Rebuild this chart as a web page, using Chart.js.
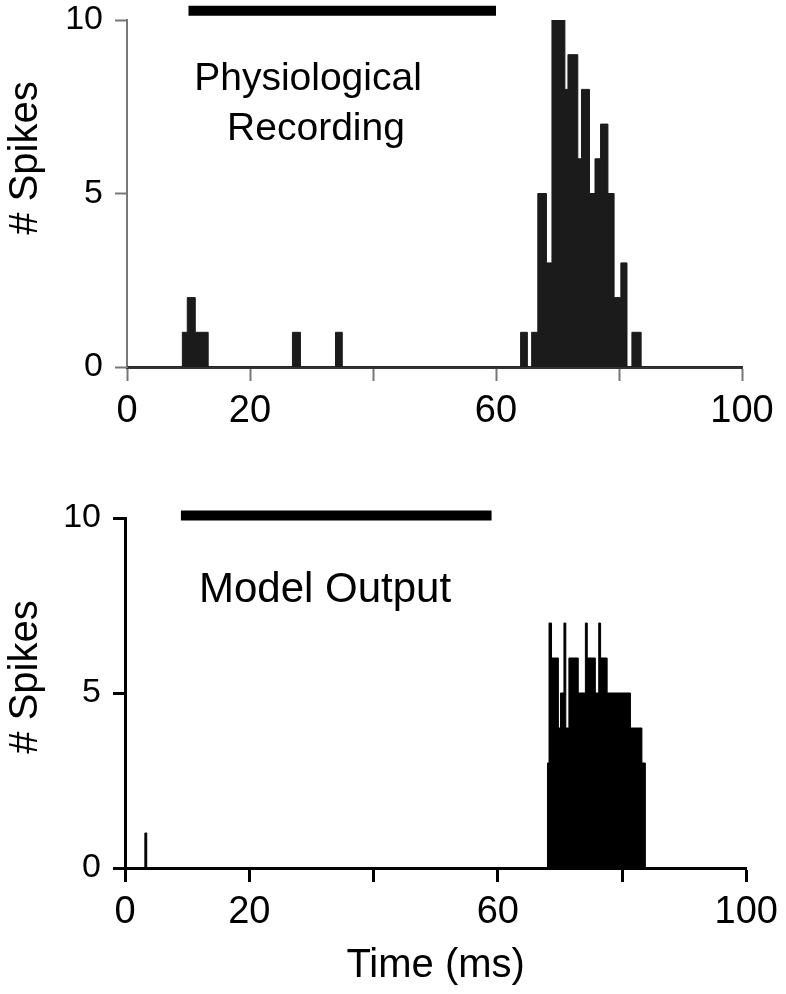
<!DOCTYPE html>
<html>
<head>
<meta charset="utf-8">
<script src="https://cdn.jsdelivr.net/npm/chart.js@4.4.0/dist/chart.umd.min.js"></script>
<style>
  body { margin: 0; background: #fff; }
  canvas { position: absolute; left: 0; }
  #physChart { top: 0; }
  #modelChart { top: 470px; }
</style>
</head>
<body>
<canvas id="physChart" width="786" height="450"></canvas>
<canvas id="modelChart" width="786" height="524"></canvas>
<script>
// bin start (ms) and spike count for each bin
const physTimes = [0, 9.0, 9.8, 11.1, 13.2, 26.9, 28.2, 33.9, 35.0, 64.0, 65.1, 65.8, 66.8, 68.2, 69.1, 71.2, 71.7, 73.3, 73.9, 75.2, 76.1, 77.0, 78.2, 79.2, 80.3, 81.3, 82.1, 83.6, 100];
const physCounts = [0, 1, 2, 1, 0, 1, 0, 1, 0, 1, 0, 1, 5, 3, 10, 8, 9, 6, 8, 5, 6, 7, 5, 2, 3, 0, 1, 0, 0];

const modelTimes = [0, 3.2, 3.5, 68.0, 68.25, 68.65, 69.75, 70.1, 70.65, 70.95, 71.45, 72.95, 74.1, 74.4, 75.7, 76.25, 76.55, 77.6, 81.35, 83.2, 83.75, 100];
const modelCounts = [0, 1, 0, 3, 7, 6, 4, 5, 7, 4, 6, 5, 7, 6, 5, 7, 6, 5, 4, 3, 0, 0];

// stimulus on / off (ms)
const physStim = [10, 60];
const modelStim = [9, 59];

const xTicksShown = [0, 20, 60, 100];
const yTicks = [0, 5, 10];

const toPoints = (xs, ys) => xs.map((x, i) => ({ x: x, y: ys[i] }));

// text drawn inside the plot
const notes = {
    id: "notes",
    afterDraw(chart, args, opts) {
        const ctx = chart.ctx;
        ctx.save();
        ctx.fillStyle = "#000";
        ctx.textAlign = "center";
        ctx.textBaseline = "alphabetic";
        ctx.font = opts.font;
        opts.lines.forEach(l => ctx.fillText(l.text, l.x, l.y));
        ctx.font = "40px 'Liberation Sans', Arial, sans-serif";
        ctx.translate(opts.ylabel.x, opts.ylabel.y);
        ctx.rotate(-Math.PI / 2);
        ctx.fillText("# Spikes", 0, 0);
        ctx.restore();
    }
};

const makeChart = (id, times, counts, stim, fill, look) => {
    return new Chart(id, {
        type: "line",
        data: {
            datasets: [{
                data: toPoints(times, counts),
                stepped: true,
                fill: "origin",
                backgroundColor: fill,
                borderColor: fill,
                borderWidth: 1,
                pointRadius: 0
            }, {
                data: stim.map(x => ({ x: x, y: look.stimY })),
                borderColor: "#000",
                borderWidth: 10,
                borderCapStyle: "butt",
                pointRadius: 0,
                fill: false,
                clip: false
            }]
        },
        options: {
            responsive: false,
            animation: false,
            layout: { padding: { top: look.top, right: look.right, left: 0, bottom: 0 } },
            plugins: {
                legend: { display: false },
                tooltip: { enabled: false },
                notes: look.notes
            },
            scales: {
                x: {
                    type: "linear",
                    min: 0,
                    max: 100,
                    afterFit: s => { s.height = look.xh; },
                    border: { color: look.xAxisColor, width: 3 },
                    grid: { drawOnChartArea: false, tickLength: 14, tickWidth: look.tickW, tickColor: look.tickColor },
                    ticks: {
                        stepSize: 20,
                        padding: 8,
                        color: "#000",
                        font: { family: "'Liberation Sans', Arial, sans-serif", size: 38 },
                        callback: v => xTicksShown.includes(v) ? String(v) : ""
                    },
                    title: look.xTitle
                },
                y: {
                    min: 0,
                    max: 10,
                    afterFit: s => { s.width = look.yw; s.paddingTop = 0; s.paddingBottom = 0; },
                    afterBuildTicks: s => { s.ticks = yTicks.map(v => ({ value: v })); },
                    border: { color: look.yAxisColor, width: look.yAxisW },
                    grid: { drawOnChartArea: false, tickLength: 12, tickWidth: look.tickW, tickColor: look.yAxisColor },
                    ticks: {
                        padding: 12,
                        color: "#000",
                        font: { family: "'Liberation Sans', Arial, sans-serif", size: 34 }
                    }
                }
            }
        },
        plugins: [notes]
    });
};

makeChart("physChart", physTimes, physCounts, physStim, "#1b1b1b", {
    stimY: 10.27,
    top: 20, right: 44, xh: 83, yw: 127,
    xAxisColor: "#333", yAxisColor: "#777", yAxisW: 2, tickW: 2, tickColor: "#777",
    xTitle: { display: false },
    notes: {
        font: "39px 'Liberation Sans', Arial, sans-serif",
        lines: [{ text: "Physiological", x: 308, y: 90 }, { text: "Recording", x: 316, y: 140 }],
        ylabel: { x: 37, y: 158 }
    }
});

makeChart("modelChart", modelTimes, modelCounts, modelStim, "#000", {
    stimY: 10.07,
    top: 48, right: 36, xh: 126, yw: 125,
    xAxisColor: "#000", yAxisColor: "#000", yAxisW: 3, tickW: 3, tickColor: "#000",
    xTitle: {
        display: true,
        text: "Time (ms)",
        color: "#000",
        font: { family: "'Liberation Sans', Arial, sans-serif", size: 40 },
        padding: { top: 4, bottom: 4 }
    },
    notes: {
        font: "42px 'Liberation Sans', Arial, sans-serif",
        lines: [{ text: "Model Output", x: 325, y: 132 }],
        ylabel: { x: 37, y: 207 }
    }
});
</script>
</body>
</html>
